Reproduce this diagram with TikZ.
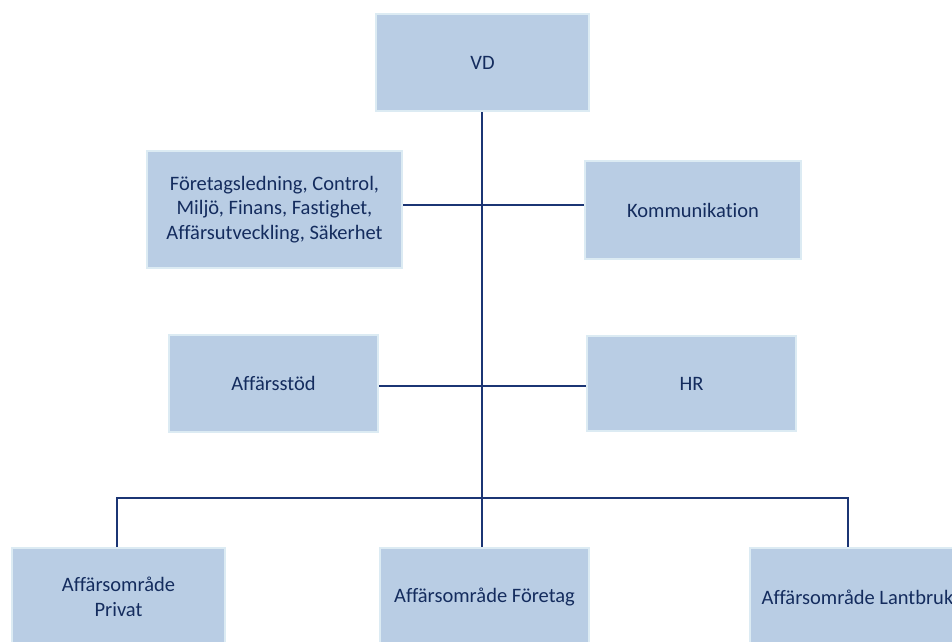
\documentclass[tikz,border=0pt]{standalone}
\usepackage{fontspec}
\setmainfont{Carlito}[Ligatures=NoCommon]
\usepackage{tikz}
\usetikzlibrary{calc,positioning}
\definecolor{boxfill}{HTML}{B9CDE4}
\definecolor{boxedge}{HTML}{DCEBF3}
\definecolor{navytext}{HTML}{142C5E}
\definecolor{navyline}{HTML}{1B3574}

\begin{document}
\begin{tikzpicture}[x=1pt,y=-1pt,
    orgbox/.style={draw=boxedge,line width=2pt,fill=boxfill,text=navytext,
      align=center,inner sep=0pt,font=\fontsize{20.5}{24.5}\selectfont},
    orgline/.style={draw=navyline,line width=2pt}]
          \useasboundingbox (0,0) rectangle (952,641);
          \clip (0,0) rectangle (952,641);

          % top and the staff boxes
          \node[orgbox,minimum width=213,minimum height=97] (vd) at (482.5,62.5) {VD};
          \node[orgbox,minimum width=255,minimum height=117] (ledning) at (274.5,209.5)
            {Företagsledning, Control,\\Miljö, Finans, Fastighet,\\Affärsutveckling, Säkerhet};
          \node[orgbox,minimum width=216,minimum height=98] (komm) at (693,210) {Kommunikation};
          \node[orgbox,minimum width=209,minimum height=97] (stod) at (273.5,383.5) {Affärsstöd};
          \node[orgbox,minimum width=209,minimum height=95] (hr) at (691.5,383.5) {HR};

          % business areas
          \node[orgbox,minimum width=213,minimum height=98] (privat) at (118.5,597) {Affärsområde\\Privat};
          \node[orgbox,minimum width=209,minimum height=98] (foretag) at (484.5,597) {Affärsområde Företag};
          \node[orgbox,minimum width=215,minimum height=98] (lantbruk) at (857.5,597) {Affärsområde Lantbruk};

          \coordinate (row1) at (481.5,205);
          \coordinate (row2) at (481.5,386);
          \coordinate (bar) at (481.5,498);

          \draw[orgline] (vd.south -| row1) -- (foretag.north -| row1);
          \draw[orgline] (ledning.east |- row1) -- (komm.west |- row1);
          \draw[orgline] (stod.east |- row2) -- (hr.west |- row2);
          \draw[orgline] ($(privat.north)+(-2,0)$) |- (bar) -| ($(lantbruk.north)+(-10,0)$);
        \end{tikzpicture}
\end{document}
